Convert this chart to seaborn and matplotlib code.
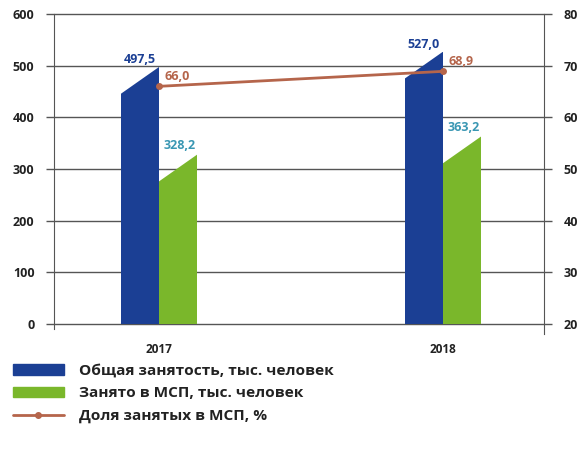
import pandas as pd
import seaborn as sns
from matplotlib import pyplot as plt
from matplotlib.patches import Polygon
from matplotlib.lines import Line2D
from matplotlib.patches import Patch

years = ['2017', '2018']
total_employed = [497.5, 527.0]
sme_employed = [328.2, 363.2]
sme_share = [66.0, 68.9]
series_names = ['Общая занятость, тыс. человек', 'Занято в МСП, тыс. человек']
share_name = 'Доля занятых в МСП, %'

blue = '#1b3f94'
green = '#7ab72b'
brown = '#b5654b'
teal = '#3a97b3'
grid_c = '#555555'

sns.set_style('white')
plt.rcParams['font.family'] = ['Open Sans', 'DejaVu Sans']

df = pd.DataFrame({
    'year': years * 2,
    'series': [series_names[0]] * 2 + [series_names[1]] * 2,
    'value': total_employed + sme_employed,
})

fig = plt.figure(figsize=(5.79, 4.53), dpi=100)
ax = fig.add_axes([54 / 579, 1 - 324 / 453, 490 / 579, 310 / 453])

sns.barplot(data=df, x='year', y='value', hue='series', hue_order=series_names,
            palette=[blue, green], width=0.27, saturation=1, ax=ax, legend=False)

# slanted tops of the bars
cut = 56
for p in ax.patches:
    x0, w, h = p.get_x(), p.get_width(), p.get_height()
    clip = Polygon([(x0 - 0.01, -20), (x0 + w + 0.01, -20), (x0 + w + 0.01, h),
                    (x0 + w, h), (x0 - 0.01, h - cut)], closed=True,
                   transform=ax.transData)
    p.set_clip_path(clip)
    p.set_linewidth(0)

ax.set_ylim(0, 600)
ax.set_xlim(-0.37, 1.356)
ax.set_yticks(range(0, 601, 100))
ax.set_xlabel('')
ax.set_ylabel('')
for v in range(0, 601, 100):
    ax.axhline(v, color=grid_c, lw=1, zorder=0, clip_on=False)

ax2 = ax.twinx()
sns.lineplot(x=[0, 1], y=sme_share, ax=ax2, color=brown, lw=2, marker='o',
             markersize=5, markeredgewidth=0)
ax2.set_ylim(20, 80)
ax2.set_yticks(range(20, 81, 10))
ax2.set_xlim(-0.37, 1.356)

for a in (ax, ax2):
    for s in ('top', 'bottom'):
        a.spines[s].set_visible(False)
    a.spines['left'].set_visible(a is ax)
    a.spines['right'].set_visible(a is ax2)
    a.tick_params(axis='y', length=6, width=1, color=grid_c, direction='out',
                  labelsize=9, pad=8, labelcolor='#222222')
    for t in a.get_yticklabels():
        t.set_fontweight('bold')
ax.spines['left'].set_color(grid_c)
ax2.spines['right'].set_color(grid_c)
ax.spines['left'].set_bounds(-10, 600)
ax2.spines['right'].set_bounds(18.1, 80)
ax.tick_params(axis='x', length=0, pad=14, labelsize=8.5, labelcolor='#222222')
for t in ax.get_xticklabels():
    t.set_fontweight('bold')

# value labels
bars = ax.patches
for i in range(2):
    b = bars[i]
    ax.text(b.get_x() + b.get_width() / 2, total_employed[i] + 2,
            f'{total_employed[i]:.1f}'.replace('.', ','), color=blue,
            ha='center', va='bottom', fontsize=9, fontweight='bold')
    g = bars[i + 2]
    ax.text(g.get_x() + g.get_width() / 2 + 0.005, sme_employed[i] + 4,
            f'{sme_employed[i]:.1f}'.replace('.', ','), color=teal,
            ha='center', va='bottom', fontsize=9, fontweight='bold')
    ax2.text(i + 0.065, sme_share[i] + 0.6,
             f'{sme_share[i]:.1f}'.replace('.', ','), color=brown,
             ha='center', va='bottom', fontsize=9, fontweight='bold')

handles = [Patch(color=blue), Patch(color=green),
           Line2D([0], [0], color=brown, lw=2, marker='o', markersize=4)]
fig.legend(handles, series_names + [share_name], loc='upper left',
           bbox_to_anchor=(13 / 579, 1 - 364 / 453), frameon=False,
           handlelength=3.3, handleheight=0.7, handletextpad=1.0,
           labelspacing=0.55, borderaxespad=0, borderpad=0,
           prop={'size': 11.1, 'weight': 'bold'}, labelcolor='#222222')

fig.savefig('out.png', dpi=100)
